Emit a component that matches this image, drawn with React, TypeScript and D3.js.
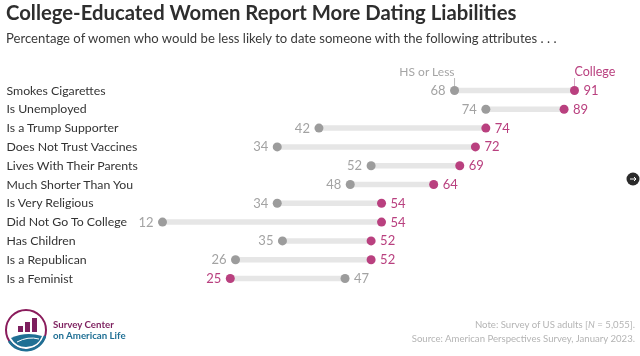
import React from "react";
import * as d3 from "d3";

const categories = ["Smokes Cigarettes","Is Unemployed","Is a Trump Supporter","Does Not Trust Vaccines","Lives With Their Parents","Much Shorter Than You","Is Very Religious","Did Not Go To College","Has Children","Is a Republican","Is a Feminist"];
const hsOrLess = [68,74,42,34,52,48,34,12,35,26,47];
const college = [91,89,74,72,69,64,54,54,52,52,25];

const W = 640, H = 356;
const x = d3.scaleLinear().domain([12, 91]).range([162.5, 574.5]);
const y = d3.scalePoint<string>().domain(categories).range([90.5, 278.5]);
const GREY = "#9c9c9c", PINK = "#b9407f", FONT = "Lato, sans-serif";

export default function App() {
  return (
    <svg width={W} height={H} viewBox={`0 0 ${W} ${H}`} style={{position:"absolute",left:0,top:0,background:"#fff",fontFamily:FONT}}>
      <g style={{filter:"blur(0.35px)"}}>
      <text x={6} y={20} fontSize={20.3} fontWeight={700} fill="#2e2e2e">College-Educated Women Report More Dating Liabilities</text>
      <text x={6} y={43} fontSize={13.1} fill="#3a3a3a">Percentage of women who would be less likely to date someone with the following attributes . . .</text>

      <text x={x(68)} y={76} fontSize={12} fill="#a5a5a5" textAnchor="end">HS or Less</text>
      <text x={x(91)} y={76} fontSize={12.5} fill={PINK} textAnchor="start">College</text>
      <line x1={x(68)} x2={x(68)} y1={78} y2={86} stroke="#bbb" />
      <line x1={x(91)} x2={x(91)} y1={78} y2={86} stroke="#d9a6c4" />

      {categories.map((c, i) => {
        const cy = y(c)!;
        const a = hsOrLess[i], b = college[i];
        const hsLeft = a < b;
        return (
          <g key={c}>
            <text x={6.5} y={cy + 4} fontSize={12.3} fill="#333">{c}</text>
            <line x1={x(a)} x2={x(b)} y1={cy} y2={cy} stroke="#e6e6e6" strokeWidth={5.5} />
            <circle cx={x(a)} cy={cy} r={4.5} fill={GREY} />
            <circle cx={x(b)} cy={cy} r={4.5} fill={PINK} />
            <text x={x(a) + (hsLeft ? -9 : 9)} y={cy + 4.5} fontSize={13} fill="#a3a3a3" textAnchor={hsLeft ? "end" : "start"}>{a}</text>
            <text x={x(b) + (hsLeft ? 9 : -9)} y={cy + 4.5} fontSize={13} fill={PINK} textAnchor={hsLeft ? "start" : "end"}>{b}</text>
          </g>
        );
      })}

      {/* logo */}
      <g>
        <circle cx={26} cy={330} r={20} fill="none" stroke="#8a1c5c" strokeWidth={2} />
        <path d="M 9 341 A 20 20 0 0 0 45 336" fill="none" stroke="#1f6f94" strokeWidth={2.6} />
        <rect x={18} y={326} width={5} height={6} fill="#7d1f5e" />
        <rect x={25} y={322} width={5} height={10} fill="#7d1f5e" />
        <rect x={32} y={318} width={5} height={14} fill="#7d1f5e" />
        <path d="M 11 338 Q 26 331 42 336 Q 38 347 26 347 Q 16 347 11 338 Z" fill="#1f6f94" />
        <path d="M 17 342 Q 28 336 39 339" fill="none" stroke="#fff" strokeWidth={1} />
        <text x={53} y={328} fontSize={9.7} fontWeight={700} fill="#7d1f5e">Survey Center</text>
        <text x={53} y={339} fontSize={9.7} fontWeight={700} fill="#1f6f94">on American Life</text>
      </g>

      <text x={635} y={327.5} fontSize={9.6} fill="#b4b4b4" textAnchor="end">Note: Survey of US adults [<tspan fontStyle="italic">N</tspan> = 5,055].</text>
      <text x={635} y={341.5} fontSize={9.6} fill="#b4b4b4" textAnchor="end">Source: American Perspectives Survey, January 2023.</text>
      </g>

      <circle cx={633} cy={179} r={6.5} fill="#2b2b2b" />
      <path d="M 630 179 H 636 M 634 177 L 636 179 L 634 181" fill="none" stroke="#fff" strokeWidth={1} />
    </svg>
  );
}
